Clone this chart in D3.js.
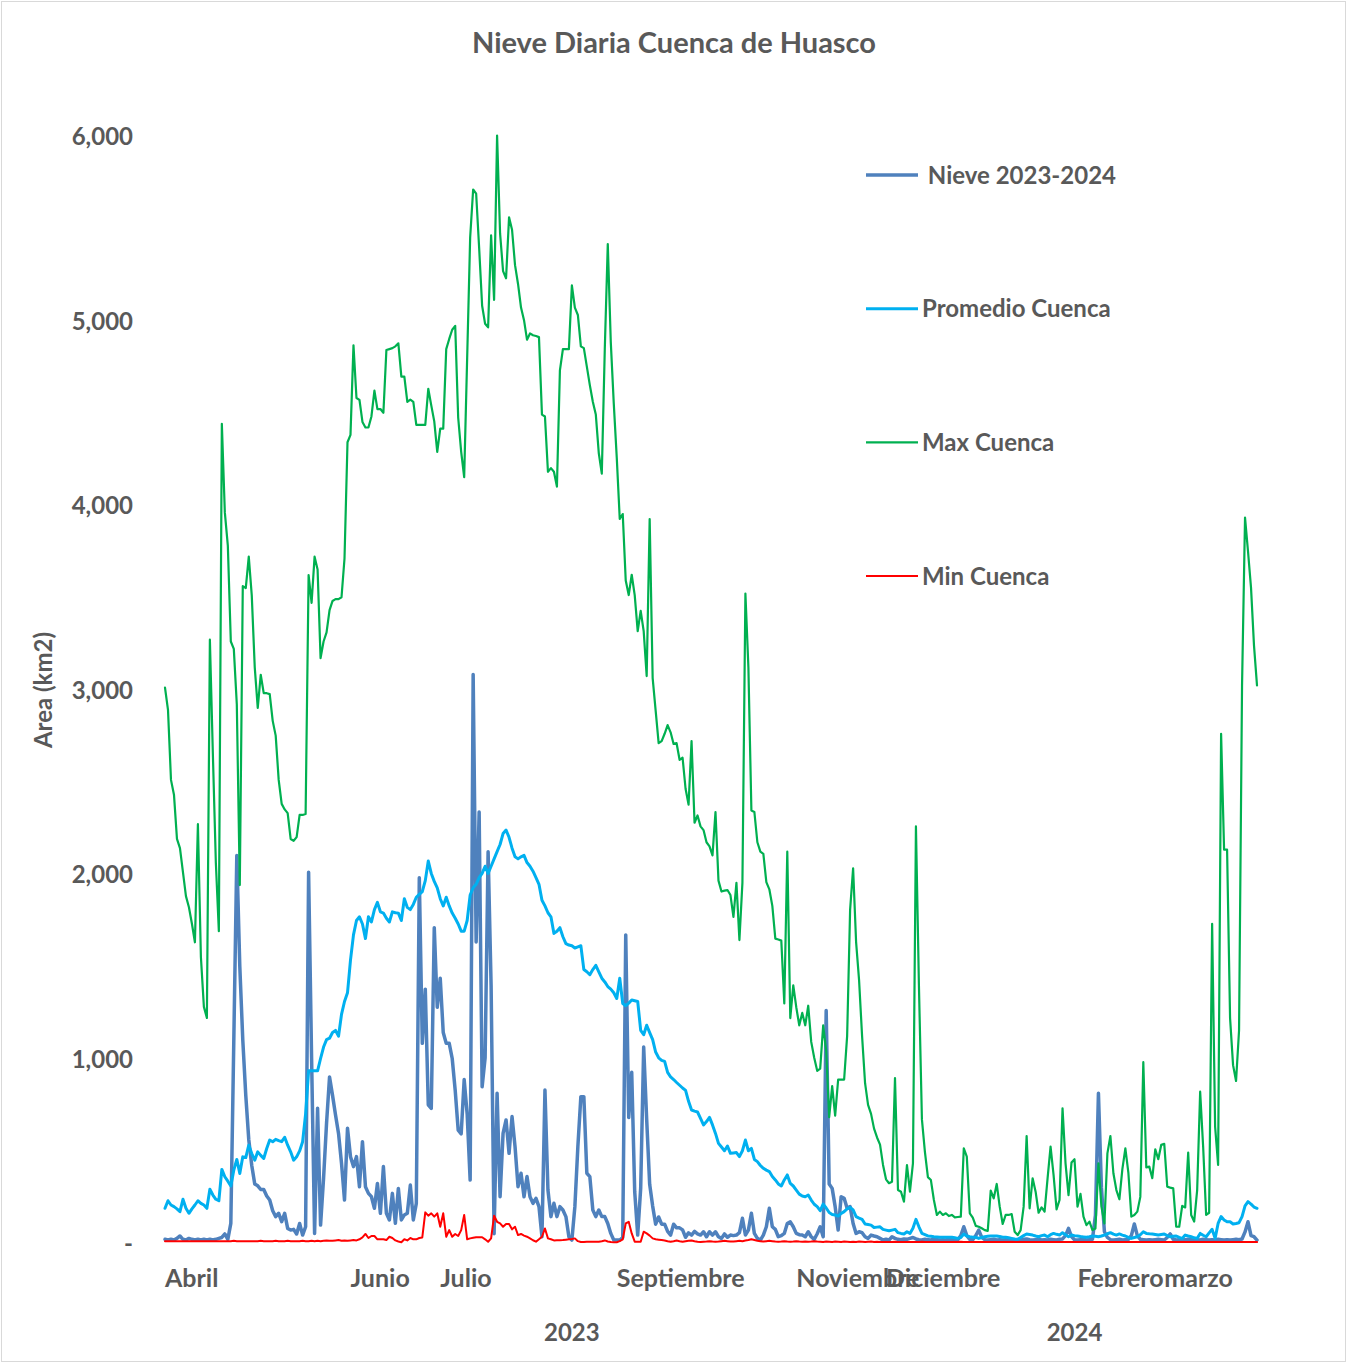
<!DOCTYPE html>
<html>
<head>
<meta charset="utf-8">
<title>Nieve Diaria Cuenca de Huasco</title>
<script src="https://cdn.jsdelivr.net/npm/d3@7"></script>
<style>
  body { margin: 0; background: #fff; }
  svg text { font-family: Lato, "Open Sans", sans-serif; font-weight: bold; fill: #595959; }
  .lbl { font-size: 24px; }
  .month { font-size: 25px; }
  .title { font-size: 29px; }
</style>
</head>
<body>
<svg></svg>
<script>
// daily values, first day 2023-04-01
const startDate = "2023-04-01";

const nieve = [
  20, 16, 20, 16, 25, 38, 20, 16, 25, 20,
  16, 20, 16, 20, 16, 20, 16, 20, 25, 30,
  49, 20, 106, 1100, 2100, 1500, 1100, 800, 560, 420,
  320, 310, 290, 290, 255, 233, 175, 143, 161, 116,
  161, 79, 70, 74, 49, 106, 43, 88, 2010, 1000,
  52, 730, 97, 350, 650, 900, 800, 694, 594, 432,
  233, 622, 468, 414, 468, 305, 549, 305, 269, 251,
  188, 323, 161, 414, 161, 125, 269, 107, 296, 125,
  152, 161, 314, 125, 215, 1980, 1082, 1376, 749, 729,
  1709, 1278, 1435, 1141, 1082, 1082, 1000, 827, 612, 592,
  886, 698, 341, 3081, 1631, 2336, 847, 1004, 2121, 1396,
  50, 811, 251, 594, 667, 486, 685, 522, 305, 378,
  251, 360, 251, 215, 242, 197, 34, 829, 287, 143,
  215, 143, 197, 179, 143, 34, 16, 197, 522, 793,
  793, 378, 360, 179, 143, 179, 143, 143, 106, 52,
  16, 16, 16, 30, 1670, 680, 925, 278, 43, 298,
  1062, 670, 318, 200, 102, 141, 102, 102, 63, 43,
  102, 82, 82, 71, 31, 55, 43, 63, 50, 43,
  61, 34, 61, 43, 61, 34, 25, 49, 31, 43,
  40, 43, 56, 134, 43, 70, 161, 52, 25, 16,
  43, 88, 188, 88, 74, 34, 40, 52, 106, 115,
  88, 52, 45, 43, 34, 61, 34, 20, 50, 88,
  34, 1260, 320, 296, 197, 70, 251, 242, 188, 197,
  106, 52, 61, 56, 34, 25, 43, 38, 34, 25,
  16, 20, 16, 34, 25, 20, 18, 22, 20, 25,
  30, 22, 18, 16, 20, 18, 16, 20, 18, 16,
  18, 16, 20, 18, 16, 18, 40, 88, 40, 20,
  18, 40, 70, 30, 18, 16, 18, 20, 16, 18,
  16, 18, 16, 14, 16, 18, 16, 20, 22, 18,
  16, 18, 20, 16, 18, 16, 20, 18, 16, 20,
  22, 40, 79, 35, 18, 16, 18, 20, 16, 18,
  20, 150, 811, 300, 61, 30, 18, 16, 18, 20,
  16, 18, 20, 40, 103, 40, 20, 18, 16, 18,
  16, 18, 20, 18, 16, 30, 49, 20, 16, 18,
  16, 18, 20, 18, 16, 18, 16, 20, 18, 16,
  18, 16, 20, 18, 16, 18, 16, 18, 20, 18,
  22, 60, 115, 40, 34, 16
];

const promedio = [
  188, 229, 206, 197, 185, 170, 237, 188, 161, 185,
  206, 229, 215, 206, 188, 291, 260, 237, 229, 399,
  359, 335, 309, 395, 453, 377, 467, 463, 530, 485,
  449, 494, 475, 458, 512, 558, 549, 562, 555, 549,
  573, 530, 494, 449, 467, 499, 549, 700, 933, 933,
  933, 933, 1000, 1062, 1102, 1110, 1141, 1152, 1121, 1239,
  1309, 1356, 1533, 1670, 1748, 1768, 1729, 1650, 1768, 1740,
  1807, 1846, 1795, 1788, 1760, 1740, 1795, 1790, 1788, 1748,
  1866, 1819, 1807, 1835, 1874, 1890, 1905, 1964, 2070, 2003,
  1960, 1925, 1866, 1827, 1874, 1827, 1788, 1760, 1729, 1690,
  1690, 1748, 1886, 1925, 1944, 1980, 2003, 2042, 2003, 2042,
  2082, 2121, 2160, 2219, 2238, 2199, 2140, 2093, 2082, 2093,
  2101, 2062, 2042, 2015, 1980, 1944, 1858, 1827, 1790, 1768,
  1678, 1690, 1709, 1660, 1623, 1615, 1611, 1599, 1605, 1611,
  1482, 1470, 1454, 1482, 1505, 1470, 1435, 1415, 1390, 1376,
  1356, 1325, 1435, 1298, 1286, 1300, 1317, 1313, 1309, 1152,
  1129, 1180, 1140, 1102, 1035, 1004, 990, 984, 925, 900,
  886, 870, 855, 840, 827, 768, 721, 715, 710, 676,
  640, 658, 681, 640, 594, 540, 520, 500, 526, 486,
  488, 490, 468, 500, 558, 500, 513, 453, 441, 420,
  405, 395, 387, 360, 342, 320, 309, 342, 369, 323,
  309, 287, 265, 255, 251, 260, 233, 210, 197, 175,
  211, 190, 165, 155, 152, 146, 160, 170, 185, 193,
  179, 143, 135, 128, 103, 100, 97, 84, 86, 88,
  74, 70, 66, 70, 74, 56, 52, 49, 61, 52,
  80, 128, 88, 52, 45, 38, 36, 34, 33, 31,
  31, 31, 31, 31, 28, 25, 30, 49, 38, 34,
  31, 31, 25, 30, 34, 36, 38, 38, 38, 35,
  31, 31, 28, 25, 22, 20, 30, 40, 49, 46,
  43, 38, 34, 40, 43, 34, 45, 52, 47, 43,
  56, 45, 34, 43, 40, 38, 35, 33, 31, 34,
  38, 36, 34, 38, 43, 50, 56, 48, 43, 49,
  43, 38, 30, 25, 30, 34, 45, 61, 52, 50,
  49, 46, 43, 46, 49, 40, 34, 36, 38, 30,
  25, 43, 38, 34, 28, 25, 52, 42, 34, 55,
  74, 25, 106, 143, 125, 115, 115, 103, 106, 110,
  143, 201, 224, 211, 195, 188
];

const maxCuenca = [
  3010, 2890, 2510, 2430, 2190, 2140, 2010, 1880, 1820, 1730,
  1630, 2270, 1550, 1280, 1220, 3270, 2650, 2060, 1690, 4440,
  3960, 3780, 3260, 3220, 2920, 1940, 3560, 3550, 3720, 3510,
  3120, 2900, 3080, 2980, 2980, 2975, 2830, 2750, 2510, 2380,
  2350, 2330, 2190, 2180, 2200, 2320, 2320, 2325, 3620, 3470,
  3720, 3650, 3170, 3260, 3310, 3430, 3480, 3490, 3490, 3500,
  3710, 4340, 4380, 4865, 4580, 4570, 4450, 4420, 4420, 4480,
  4620, 4520, 4520, 4500, 4840, 4845, 4850, 4860, 4876, 4696,
  4696, 4559, 4571, 4559, 4434, 4434, 4434, 4434, 4630, 4540,
  4453, 4288, 4414, 4414, 4845, 4900, 4950, 4971, 4473, 4288,
  4151, 4800, 5450, 5710, 5688, 5394, 5080, 4982, 4963, 5461,
  5112, 6002, 5472, 5268, 5229, 5559, 5492, 5300, 5198, 5070,
  5002, 4896, 4930, 4920, 4916, 4910, 4490, 4480, 4180, 4200,
  4180, 4100, 4730, 4845, 4845, 4845, 5190, 5070, 5030, 4860,
  4850, 4750, 4650, 4560, 4490, 4280, 4170, 4845, 5414, 4884,
  4551, 4257, 3924, 3951, 3591, 3512, 3622, 3512, 3316, 3426,
  3316, 3073, 3924, 3062, 2885, 2709, 2720, 2760, 2807, 2768,
  2705, 2709, 2619, 2630, 2462, 2376, 2720, 2278, 2317, 2258,
  2238, 2172, 2150, 2101, 2336, 1964, 1905, 1910, 1913, 1886,
  1768, 1952, 1642, 1952, 3520, 3120, 2344, 2336, 2172, 2121,
  2109, 1956, 1917, 1827, 1650, 1645, 1639, 1298, 2121, 1219,
  1396, 1278, 1180, 1247, 1180, 1286, 1090, 1004, 933, 945,
  1180, 1043, 682, 850, 690, 886, 886, 886, 1121, 1807,
  2031, 1631, 1423, 1121, 866, 749, 700, 620, 572, 533,
  423, 345, 324, 332, 894, 287, 278, 224, 422, 278,
  432, 2258, 1396, 670, 494, 357, 341, 233, 152, 170,
  152, 161, 146, 152, 139, 141, 143, 513, 468, 161,
  137, 93, 88, 80, 70, 66, 284, 242, 320, 197,
  103, 152, 152, 157, 61, 43, 70, 197, 580, 188,
  351, 278, 164, 193, 170, 350, 522, 369, 182, 233,
  730, 432, 260, 436, 454, 197, 266, 143, 97, 116,
  70, 79, 432, 197, 106, 486, 580, 378, 287, 237,
  400, 513, 382, 143, 152, 170, 250, 980, 410, 414,
  351, 508, 454, 532, 537, 305, 300, 296, 88, 88,
  201, 193, 490, 152, 116, 287, 820, 522, 152, 164,
  1730, 631, 423, 2760, 2132, 2132, 1219, 964, 878, 1152,
  3022, 3932, 3748, 3552, 3238, 3022
];

const minCuenca = [
  10, 10, 9, 10, 10, 9, 10, 10, 10, 9,
  10, 10, 9, 10, 10, 10, 9, 10, 10, 10,
  10, 9, 10, 12, 10, 10, 9, 10, 10, 10,
  10, 10, 12, 10, 10, 10, 10, 12, 10, 10,
  10, 12, 10, 10, 10, 10, 12, 10, 10, 12,
  10, 12, 10, 12, 14, 12, 12, 14, 16, 12,
  14, 12, 14, 16, 14, 20, 30, 49, 27, 38,
  38, 20, 20, 20, 16, 34, 27, 14, 8, 4,
  20, 14, 27, 20, 20, 27, 30, 166, 148, 161,
  143, 161, 88, 161, 34, 70, 34, 49, 38, 70,
  152, 20, 25, 28, 31, 31, 31, 20, 7, 25,
  148, 115, 106, 88, 103, 103, 74, 88, 43, 49,
  40, 34, 25, 15, 7, 20, 34, 79, 25, 20,
  14, 15, 15, 16, 18, 20, 22, 25, 10, 5,
  5, 7, 7, 7, 7, 7, 10, 14, 8, 5,
  4, 4, 10, 20, 106, 115, 52, 7, 7, 7,
  61, 52, 40, 25, 20, 18, 16, 14, 10, 7,
  10, 14, 10, 7, 10, 12, 14, 10, 7, 5,
  7, 8, 10, 8, 7, 8, 10, 12, 10, 8,
  8, 10, 12, 10, 14, 16, 20, 16, 12, 10,
  8, 10, 12, 10, 8, 7, 8, 10, 8, 7,
  8, 10, 8, 7, 8, 7, 8, 10, 8, 7,
  6, 8, 7, 6, 8, 7, 6, 8, 7, 6,
  7, 6, 8, 7, 6, 7, 8, 6, 7, 6,
  5, 6, 5, 6, 7, 5, 6, 5, 6, 5,
  6, 5, 6, 7, 5, 6, 5, 6, 5, 6,
  5, 6, 5, 6, 5, 6, 7, 5, 6, 5,
  6, 5, 6, 5, 6, 5, 6, 5, 6, 5,
  5, 6, 5, 6, 5, 6, 5, 6, 5, 6,
  6, 5, 6, 5, 6, 5, 6, 5, 6, 5,
  5, 6, 5, 6, 5, 6, 5, 6, 5, 6,
  6, 5, 6, 5, 6, 5, 6, 5, 6, 5,
  5, 6, 5, 6, 5, 6, 5, 6, 5, 6,
  6, 5, 6, 5, 6, 5, 6, 5, 6, 5,
  5, 6, 5, 6, 5, 6, 5, 6, 5, 6,
  6, 5, 6, 5, 6, 5, 6, 5, 6, 5,
  6, 5, 6, 5, 6, 5
];

const monthLabels = ["Abril", "Junio", "Julio", "Septiembre", "Noviembre", "Diciembre", "Febrero", "marzo"];
const monthDates = ["2023-04-01", "2023-06-02", "2023-07-02", "2023-08-30", "2023-10-29", "2023-11-28", "2024-01-31", "2024-02-29"];
const yearLabels = ["2023", "2024"];
const yearDates = ["2023-08-15", "2024-01-30"];
const yTicks = [0, 1000, 2000, 3000, 4000, 5000, 6000];

const seriesNames = [" Nieve 2023-2024", "Promedio Cuenca", "Max Cuenca", "Min Cuenca"];
const seriesColors = ["#4f81bd", "#00b0f0", "#00b050", "#ff0000"];
const seriesWidths = [3.5, 3, 2.2, 2];

const width = 1347;
const height = 1363;
const plot = { left: 165, right: 1257, top: 136, bottom: 1243 };

const parse = d3.utcParse("%Y-%m-%d");
const dates = d3.range(nieve.length).map((i) => d3.utcDay.offset(parse(startDate), i));

const svg = d3.select("svg").attr("width", width).attr("height", height);

svg
  .append("rect")
  .attr("x", 1.5)
  .attr("y", 1.5)
  .attr("width", width - 3)
  .attr("height", height - 3)
  .attr("fill", "#fff")
  .attr("stroke", "#d9d9d9");

const xScale = d3
  .scaleUtc()
  .domain([dates[0], dates[dates.length - 1]])
  .range([plot.left, plot.right]);

const yScale = d3.scaleLinear().domain([0, 6000]).range([plot.bottom, plot.top]);

// y axis, labels only
const yAxis = d3
  .axisLeft(yScale)
  .tickValues(yTicks)
  .tickSize(0)
  .tickPadding(3)
  .tickFormat((v) => (v === 0 ? "-" : d3.format(",")(v)));

const gy = svg.append("g").attr("transform", "translate(136,0)").call(yAxis);
gy.select(".domain").remove();
gy.selectAll("text").attr("class", "lbl").attr("dy", "0.36em");

// x labels
svg
  .append("g")
  .selectAll("text")
  .data(monthLabels)
  .enter()
  .append("text")
  .attr("class", "month")
  .attr("x", (d, i) => xScale(parse(monthDates[i])))
  .attr("y", 1287)
  .text((d) => d);

svg
  .append("g")
  .selectAll("text")
  .data(yearLabels)
  .enter()
  .append("text")
  .attr("class", "lbl")
  .attr("text-anchor", "middle")
  .attr("x", (d, i) => xScale(parse(yearDates[i])))
  .attr("y", 1341)
  .text((d) => d);

svg
  .append("text")
  .attr("class", "lbl")
  .attr("text-anchor", "middle")
  .attr("transform", "translate(52,690) rotate(-90)")
  .text("Area (km2)");

svg
  .append("text")
  .attr("class", "title")
  .attr("text-anchor", "middle")
  .attr("x", 674)
  .attr("y", 53)
  .text("Nieve Diaria Cuenca de Huasco");

// lines
const line = d3
  .line()
  .x((d, i) => xScale(dates[i]))
  .y((d) => yScale(d));

const allSeries = [nieve, promedio, maxCuenca, minCuenca];

svg
  .append("g")
  .selectAll("path")
  .data(allSeries)
  .enter()
  .append("path")
  .attr("d", (d) => line(d))
  .attr("fill", "none")
  .attr("stroke", (d, i) => seriesColors[i])
  .attr("stroke-width", (d, i) => seriesWidths[i])
  .attr("stroke-linejoin", "round")
  .attr("stroke-linecap", "round");

// legend
const legend = svg
  .append("g")
  .selectAll("g")
  .data(seriesNames)
  .enter()
  .append("g")
  .attr("transform", (d, i) => `translate(866, ${175 + i * 133.7})`);

legend
  .append("line")
  .attr("x1", 0)
  .attr("x2", 52)
  .attr("stroke", (d, i) => seriesColors[i])
  .attr("stroke-width", (d, i) => seriesWidths[i]);

legend
  .append("text")
  .attr("class", "lbl")
  .attr("x", 56)
  .attr("dy", "0.36em")
  .style("white-space", "pre")
  .text((d) => d);
</script>
</body>
</html>
